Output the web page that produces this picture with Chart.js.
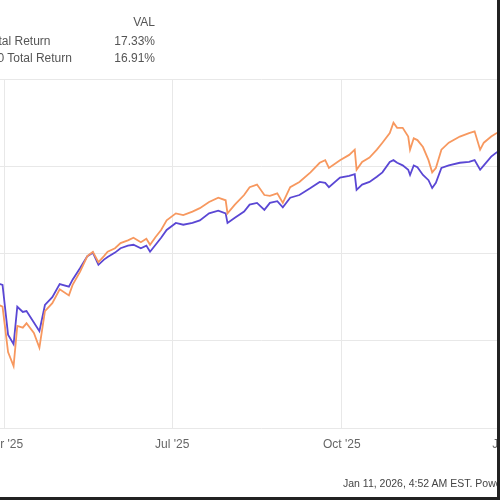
<!DOCTYPE html>
<html>
<head>
<meta charset="utf-8">
<script src="https://cdn.jsdelivr.net/npm/chart.js@4.4.1/dist/chart.umd.min.js"></script>
<style>
  html, body { margin: 0; padding: 0; background: #fff; }
  #frame {
    position: relative; width: 497px; height: 497px; overflow: hidden;
    border-right: 3px solid #222; border-bottom: 3px solid #222;
    font-family: "Liberation Sans", Arial, sans-serif; color: #555;
  }
  #plot { position: absolute; left: -40px; top: 0; width: 580px; height: 497px; }
  .txt { position: absolute; font-size: 12px; white-space: nowrap; }
  .val { left: 0; width: 155px; text-align: right; }
  #foot { position: absolute; left: 343px; top: 477px; font-size: 10.5px; color: #444; white-space: nowrap; }
</style>
</head>
<body>
<div id="frame">
  <div id="plot"><canvas id="chart"></canvas></div>
  <div class="txt val" style="top:15px">VAL</div>
  <div class="txt" style="top:34px; left:-36px">VTI Total Return</div>
  <div class="txt val" style="top:34px">17.33%</div>
  <div class="txt" style="top:51px; left:-43px">S&amp;P 500 Total Return</div>
  <div class="txt val" style="top:51px">16.91%</div>
  <div id="foot">Jan 11, 2026, 4:52 AM EST. Powered by YCHARTS</div>
</div>
<script>
// days counted from Apr 1 2025
const days = [-4, -1, 2, 5, 7, 10, 12, 16, 19, 22, 26, 30, 35, 37, 41, 45, 48, 51, 54, 56,
  60, 63, 67, 70, 74, 77, 79, 82, 85, 88, 93, 97, 102, 106, 111, 116, 120, 121, 125, 130,
  133, 137, 141, 144, 148, 151, 155, 160, 166, 171, 174, 176, 182, 187, 190, 191, 194, 198, 202, 205,
  209, 211, 213, 216, 219, 220, 222, 224, 227, 230, 232, 234, 237, 241, 247, 252, 255, 258, 260, 264,
  267, 274, 283];

const orangeReturn = [-0.8, -1.1, -6.3, -7.9, -3.3, -3.5, -3.0, -4.1, -5.8, -1.6, -0.7, 0.9, 0.2, 1.4, 2.9, 4.7, 5.2, 4.0, 4.7, 5.2,
  5.6, 6.2, 6.5, 6.8, 6.3, 6.7, 6.0, 6.9, 7.7, 8.8, 9.6, 9.4, 9.8, 10.2, 10.9, 11.4, 11.1, 9.6, 10.6, 11.7,
  12.6, 12.9, 11.7, 11.6, 11.9, 10.8, 12.6, 13.2, 14.3, 15.4, 15.7, 14.8, 15.7, 16.3, 16.9, 14.6, 15.5, 16.0, 16.9, 17.7,
  18.8, 20.0, 19.4, 19.4, 18.4, 16.9, 18.2, 18.0, 17.2, 15.7, 14.3, 14.8, 16.9, 17.7, 18.4, 18.8, 19.0, 16.9, 17.7, 18.4,
  18.8, 19.0, 19.4];

const purpleReturn = [1.6, 1.4, -4.3, -5.4, -1.1, -1.7, -1.6, -2.9, -3.9, -0.9, 0.0, 1.5, 1.2, 2.0, 3.3, 4.7, 5.1, 3.7, 4.3, 4.6,
  5.1, 5.6, 5.9, 6.0, 5.6, 5.9, 5.2, 6.0, 6.8, 7.7, 8.5, 8.3, 8.5, 8.8, 9.6, 9.9, 9.6, 8.5, 9.1, 9.8,
  10.6, 10.8, 10.0, 10.8, 11.0, 10.3, 11.4, 11.7, 12.5, 13.2, 13.1, 12.6, 13.7, 13.9, 14.1, 12.3, 12.9, 13.2, 13.8, 14.3,
  15.5, 15.7, 15.4, 15.1, 14.6, 14.0, 15.1, 14.9, 14.0, 13.4, 12.5, 13.1, 14.8, 15.1, 15.4, 15.5, 15.7, 14.6, 15.1, 16.1,
  16.6, 16.9, 17.2];

const tickDays = [0, 91, 183, 275];
const tickLabels = ["Apr '25", "Jul '25", "Oct '25", "Jan '26"];

const gridColor = '#e8e8e8';

new Chart(document.getElementById('chart'), {
  type: 'line',
  data: {
    datasets: [{
      label: 'VTI Total Return',
      data: days.map((d, i) => ({ x: d, y: orangeReturn[i] })),
      borderColor: '#f7985f',
      borderWidth: 1.8,
      pointRadius: 0,
      tension: 0
    }, {
      label: 'S&P 500 Total Return',
      data: days.map((d, i) => ({ x: d, y: purpleReturn[i] })),
      borderColor: '#5a47d4',
      borderWidth: 1.8,
      pointRadius: 0,
      tension: 0
    }]
  },
  options: {
    responsive: true,
    maintainAspectRatio: false,
    animation: false,
    layout: { padding: { left: 37, top: 79, right: 13, bottom: 0 } },
    plugins: { legend: { display: false }, tooltip: { enabled: false } },
    scales: {
      x: {
        type: 'linear',
        min: -4,
        max: 283,
        afterBuildTicks: s => { s.ticks = tickDays.map(v => ({ value: v })); },
        afterFit: s => { s.height = 69; },
        ticks: {
          callback: (v, i) => tickLabels[i],
          padding: 9,
          color: '#666',
          maxRotation: 0,
          autoSkip: false,
          font: { size: 12, family: 'Liberation Sans' }
        },
        grid: { color: gridColor, drawTicks: false },
        border: { display: false }
      },
      y: {
        min: -15,
        max: 25,
        ticks: { stepSize: 10, display: false },
        afterFit: s => { s.width = 0; },
        grid: { color: gridColor, drawTicks: false },
        border: { display: false }
      }
    }
  }
});
</script>
</body>
</html>
